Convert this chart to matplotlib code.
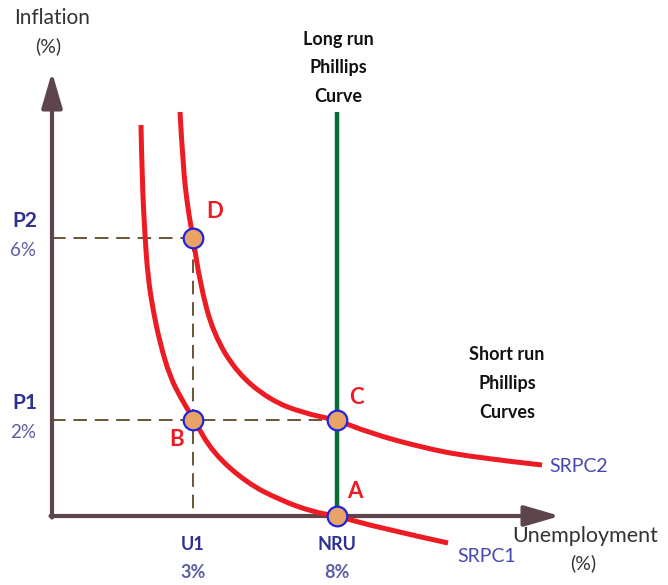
import matplotlib
matplotlib.use("Agg")
import matplotlib.pyplot as plt
from matplotlib.path import Path
from matplotlib.patches import PathPatch

plt.rcParams['font.family'] = ['Lato', 'DejaVu Sans']

# diagram units: unemployment to the right, inflation up, origin at the axes corner
srpc1_u = [89, 90, 93, 96, 101, 108, 118, 130, 142, 161, 195, 228, 261, 285, 328, 396]
srpc1_pi = [391, 339, 278, 239, 206, 173, 139, 116, 96, 63, 33, 16, 4, 0, -12, -27]

srpc2_u = [128, 131, 136, 141, 148, 161, 185, 218, 251, 285, 318, 368, 418, 490]
srpc2_pi = [404, 349, 306, 279, 233, 183, 143, 116, 103, 96, 83, 69, 59, 51]

u1, nru = 141, 285
p1, p2 = 96, 278
lrpc_top = 404

point_names = ['A', 'B', 'C', 'D']
point_u = [nru, u1, nru, u1]
point_pi = [0, p1, p1, p2]

x_ticks = ['U1', 'NRU']
x_pct = ['3%', '8%']
y_ticks = ['P1', 'P2']
y_pct = ['2%', '6%']

red = '#ed1c24'
axis_col = '#5e454b'
navy = '#2e3192'
pale = '#5b5ea6'
dash_col = '#6d5335'


def smooth_path(us, pis):
    # quadratic bezier chain, read points act as control points
    verts = [(us[0], pis[0])]
    codes = [Path.MOVETO]
    for i in range(1, len(us) - 1):
        end = ((us[i] + us[i + 1]) / 2, (pis[i] + pis[i + 1]) / 2)
        if i == len(us) - 2:
            end = (us[-1], pis[-1])
        verts += [(us[i], pis[i]), end]
        codes += [Path.CURVE3, Path.CURVE3]
    return Path(verts, codes)


fig = plt.figure(figsize=(6.68, 5.85), dpi=100)
ax = fig.add_axes([0, 0, 1, 1])
ax.set_xlim(-52, 616)
ax.set_ylim(-69, 516)
ax.axis('off')

# axes with arrows
ax.annotate('', xy=(0, 444), xytext=(0, -1.5),
            arrowprops=dict(arrowstyle='-|>,head_length=1.2,head_width=0.35',
                            mutation_scale=18, lw=3, color=axis_col, shrinkA=0, shrinkB=0))
ax.annotate('', xy=(508, 0), xytext=(-1.5, 0),
            arrowprops=dict(arrowstyle='-|>,head_length=1.2,head_width=0.35',
                            mutation_scale=18, lw=3, color=axis_col, shrinkA=0, shrinkB=0))

# guide lines
ax.plot([0, u1], [p2, p2], ls=(0, (7, 4)), color=dash_col, lw=1.4, zorder=2)
ax.plot([u1, u1], [p2, 0], ls=(0, (7, 4)), color=dash_col, lw=1.4, zorder=2)
ax.plot([0, nru], [p1, p1], ls=(0, (7, 4)), color=dash_col, lw=1.4, zorder=2)

# long run phillips curve
ax.plot([nru, nru], [0, lrpc_top], color='#0a6b35', lw=3.2, zorder=3, solid_capstyle='butt')

# short run curves
for us, pis in [(srpc1_u, srpc1_pi), (srpc2_u, srpc2_pi)]:
    ax.add_patch(PathPatch(smooth_path(us, pis), fill=False, edgecolor=red,
                           lw=3.6, zorder=4, capstyle='butt'))

ax.scatter(point_u, point_pi, s=200, facecolor='#e8a466', edgecolor='#2323dd',
           linewidth=1.6, zorder=6)

letter_off = {'A': (18, 24), 'B': (-16, -20), 'C': (19, 23), 'D': (22, 26)}
for name, u, pi in zip(point_names, point_u, point_pi):
    dx, dy = letter_off[name]
    ax.text(u + dx, pi + dy, name, color=red, fontsize=16, fontweight='bold',
            ha='center', va='center', zorder=7)

for lab, pct, u in zip(x_ticks, x_pct, [u1, nru]):
    ax.text(u, -29, lab, color=navy, fontsize=13, fontweight='bold', ha='center', va='center')
    ax.text(u, -56, pct, color=pale, fontsize=13, fontweight='bold', ha='center', va='center')

for lab, pct, pi in zip(y_ticks, y_pct, [p1, p2]):
    ax.text(-27, pi + 17, lab, color=navy, fontsize=15, fontweight='bold', ha='center', va='center')
    ax.text(-29, pi - 13, pct, color=pale, fontsize=13.5, ha='center', va='center')

ax.text(0, 498, 'Inflation', color='#333333', fontsize=15, ha='center', va='center')
ax.text(-4, 470, '(%)', color='#333333', fontsize=14, ha='center', va='center')
ax.text(533, -20, 'Unemployment', color='#333333', fontsize=15.5, ha='center', va='center')
ax.text(531, -47, '(%)', color='#333333', fontsize=14, ha='center', va='center')

for txt, y in zip(['Long run', 'Phillips', 'Curve'], [476, 448, 419]):
    ax.text(286, y, txt, color='#111111', fontsize=13, fontweight='bold', ha='center', va='center')
for txt, y in zip(['Short run', 'Phillips', 'Curves'], [161, 133, 104]):
    ax.text(455, y, txt, color='#111111', fontsize=13, fontweight='bold', ha='center', va='center')

ax.text(497, 50, 'SRPC2', color='#4747b0', fontsize=14, ha='left', va='center')
ax.text(405, -41, 'SRPC1', color='#4747b0', fontsize=14, ha='left', va='center')

fig.savefig('out.png', dpi=100)
